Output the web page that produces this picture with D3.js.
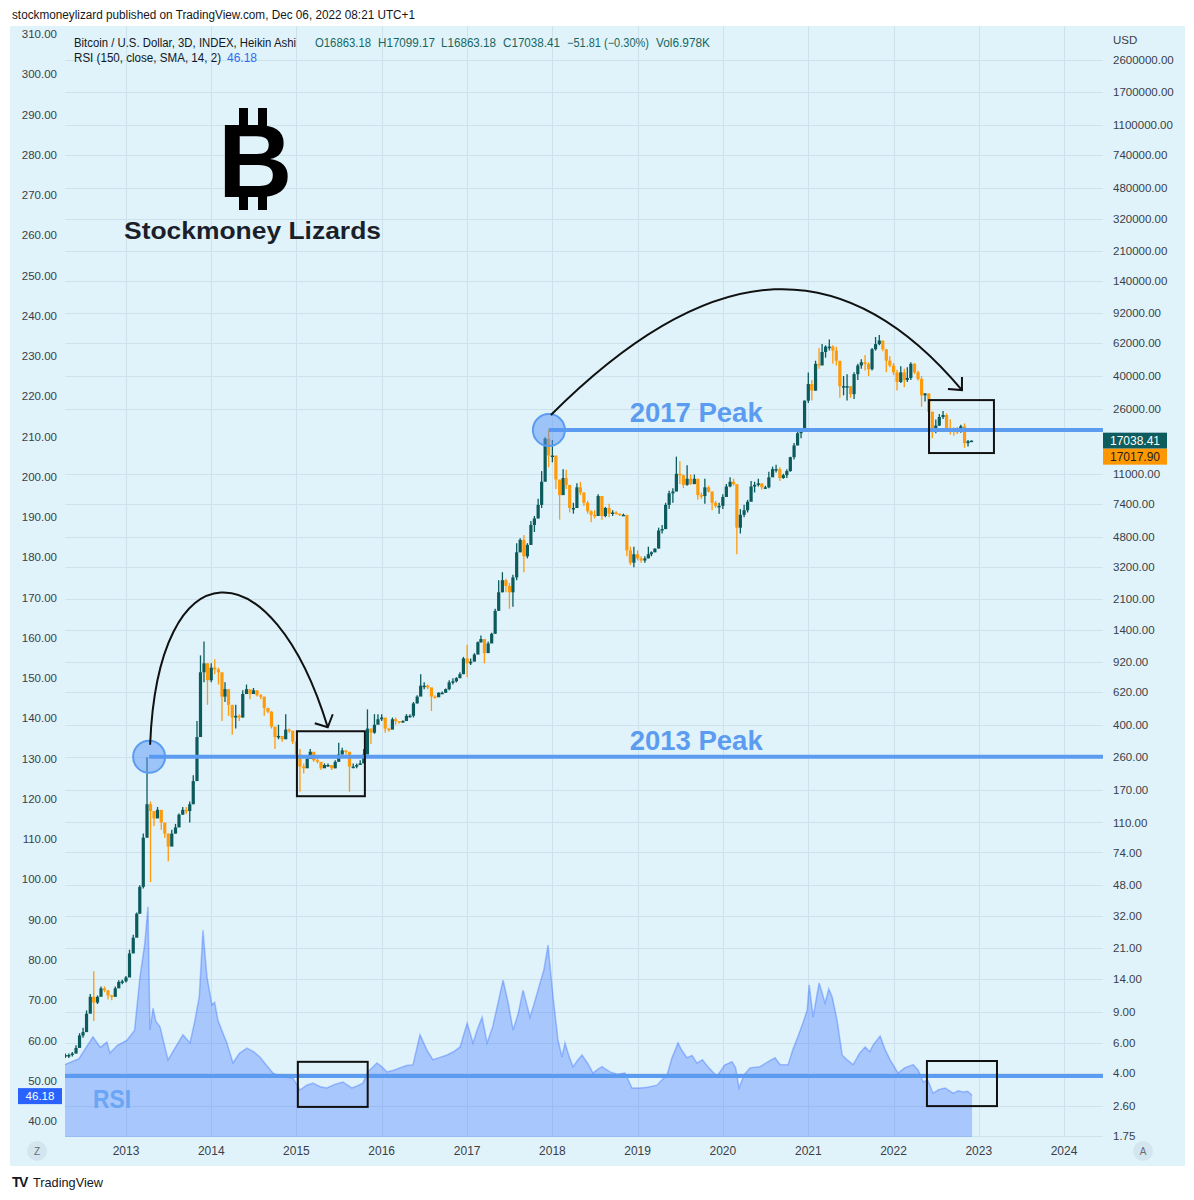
<!DOCTYPE html>
<html><head><meta charset="utf-8">
<script src="https://cdn.jsdelivr.net/npm/d3@7"></script>
<style>body{margin:0;background:#fff} text{font-family:"Liberation Sans",Arial,sans-serif}</style>
</head><body><svg id="c" width="1194" height="1200"></svg>
<script>
// ---------- DATA ----------
// Half-month Heikin-Ashi style candles, first one on 2012-04-16, then 1st / 16th of each month
const firstCandle = [2012, 3, 16];
const closes = [
  5.1,5.1,5.2,5.6,6.6,6.9,8.8,11.0,10.2,11.0,12.3,12.0,11.2,11.0,12.3,13.4,13.5,
  14.2,19.5,24,33,47,90,140,128,116,130,110,95,80,95,103,122,130,128,140,190,340,800,900,720,
  850,830,800,580,640,520,440,450,440,600,640,600,630,590,580,500,475,390,340,345,330,375,370,320,
  270,230,225,255,280,250,245,225,235,235,225,245,270,285,280,230,230,235,240,270,380,360,400,430,
  440,380,375,430,420,415,420,450,450,530,580,670,670,655,580,575,610,610,640,700,710,740,780,960,
  900,920,1010,1190,1240,1030,1170,1330,1800,2300,2700,2500,2300,2800,3900,4600,3700,4300,5600,6100,7300,9900,17500,14000,
  14000,10200,8300,10400,9500,7000,7000,9200,8600,7500,6700,6400,6300,8200,6300,7000,6500,6600,6500,6400,6400,4000,3400,3800,
  3600,3500,3600,3800,3900,4100,5200,5300,7300,8500,8700,11000,10800,9500,10300,9600,10300,8300,8200,9200,8700,7500,7200,7200,
  8100,9300,9900,9600,5400,6400,6800,7600,9300,9500,9700,9200,9200,10500,11700,11700,10400,10800,11400,13700,16000,18800,19300,28900,
  36000,33000,47000,46000,55000,59000,59000,56000,49000,35000,35000,35000,31500,41000,46000,48000,47000,43800,57000,61000,64000,57000,49000,46000,
  42000,37000,42000,38000,39000,47000,42000,38500,31000,31800,25000,19900,20800,23300,23900,20000,19800,19400,19200,20600,16500,16900,17038.41
];
const lows = [
  4.9,4.9,5.0,5.2,5.9,6.4,7.5,9.0,8.0,10.0,11.3,11.7,10.6,10.5,11.0,12.5,13.0,
  13.3,14.5,20,25,33,46,90,50,105,118,100,90,66,85,95,105,122,123,110,140,195,400,700,520,
  700,780,680,420,540,450,350,380,420,440,600,560,600,580,560,450,465,380,290,330,320,340,360,310,
  260,165,210,230,255,245,240,220,230,230,220,225,250,270,270,165,225,225,235,250,290,310,355,410,
  420,360,365,390,400,405,410,425,440,440,530,600,640,640,480,565,580,600,610,630,680,700,740,780,
  750,880,960,1020,1180,900,1030,1180,1330,1800,2300,2300,1850,1900,2700,3900,3000,3600,4300,5100,6100,7000,10000,12000,
  12800,9000,6000,9500,9000,6600,6500,7800,8300,7200,6500,5800,6100,6500,6000,6200,6200,6300,6400,6300,6300,3700,3300,3200,
  3500,3400,3400,3600,3700,3900,4100,5000,5300,6900,7500,8800,9600,9100,9400,9500,9600,7800,7900,7400,8600,6800,7000,6500,
  6900,8300,9200,9400,3800,5000,6200,6600,8600,8600,9300,8900,9000,9100,11000,11200,10000,10300,10400,11300,13300,16000,17600,19300,
  28000,29000,33000,44000,47000,51000,56000,47000,46000,30000,31000,29000,30000,29500,38000,44000,43000,40000,43000,56000,60000,55500,42000,45000,
  40500,33000,36500,34500,37000,38000,41000,37700,26700,28600,22000,17600,18800,20700,22700,19800,18500,18200,18600,18900,15500,15800,16800
];
const highs = [
  5.2,5.2,5.3,5.8,6.8,7.3,9.2,11.4,15.4,11.2,12.6,12.6,12.0,11.3,12.6,13.7,13.8,
  14.5,20.5,25,33.5,48,95,260,145,125,135,125,108,95,100,108,124,135,135,145,205,420,1000,1200,900,
  900,950,850,700,700,630,480,520,460,630,680,620,650,630,600,520,485,480,390,400,340,460,380,340,
  320,290,240,262,290,270,260,235,240,240,230,250,315,295,285,260,240,240,250,290,490,380,460,460,
  460,410,385,440,440,420,425,460,460,540,590,780,700,680,620,590,615,620,645,720,740,750,800,980,
  1150,960,1030,1200,1300,1100,1200,1350,1850,2700,3000,2750,2600,2900,4400,4700,4900,4400,5900,6300,7900,11400,17800,19800,
  17200,13000,10000,11700,11600,8700,7500,9700,9900,8600,7700,6800,6800,8400,7700,7100,7400,6800,6700,6500,6500,6300,4200,4200,
  4000,3700,3700,4200,3950,4100,5400,5600,7500,8800,9100,13800,13000,10900,12300,10900,10900,10300,8600,10300,9400,8700,7700,7500,
  8400,9600,10500,10300,9200,6900,7300,7800,10000,9900,10300,9500,9400,11300,12100,12400,12000,11000,11700,13800,16500,19500,19900,29000,
  41900,38000,49000,58000,61000,60000,64800,60000,59000,44000,40000,41000,35000,42000,47000,50000,52900,48000,58000,67000,68800,61000,57000,52000,
  47500,43500,45500,44000,45000,48000,47500,42900,40000,32000,31800,22000,22500,24200,25200,24400,22600,20300,20400,21000,21400,17200,17100
];
// RSI (150) – decimal year and value
const rsiYears = [2012.285,2012.45,2012.613,2012.70,2012.777,2012.812,2012.90,2013.012,2013.10,2013.164,2013.22,2013.258,2013.281,2013.317,2013.35,2013.399,2013.493,2013.58,2013.668,2013.751,2013.809,2013.86,2013.903,2013.950,
  2014.009,2014.04,2014.079,2014.13,2014.184,2014.255,2014.33,2014.419,2014.50,2014.571,2014.65,2014.724,2014.84,2014.958,2015.041,2015.12,2015.193,2015.28,2015.357,2015.45,2015.545,2015.650,2015.72,2015.779,2015.838,2015.944,
  2016.0,2016.061,2016.14,2016.213,2016.29,2016.366,2016.448,2016.530,2016.600,2016.68,2016.765,2016.84,2016.917,2017.0,2017.069,2017.12,2017.175,2017.234,2017.30,2017.351,2017.421,2017.48,2017.539,2017.60,2017.656,2017.738,2017.80,2017.855,2017.90,2017.949,
  2018.008,2018.066,2018.113,2018.148,2018.20,2018.242,2018.30,2018.348,2018.42,2018.477,2018.53,2018.582,2018.676,2018.76,2018.852,2018.934,2019.028,2019.12,2019.227,2019.29,2019.345,2019.40,2019.474,2019.52,2019.579,2019.64,2019.696,2019.76,2019.825,2019.931,
  2020.02,2020.107,2020.15,2020.189,2020.25,2020.318,2020.435,2020.52,2020.611,2020.670,2020.764,2020.82,2020.881,2020.94,2020.987,2021.010,2021.057,2021.10,2021.127,2021.197,2021.24,2021.280,2021.338,2021.397,2021.46,2021.526,2021.60,2021.667,2021.72,2021.761,2021.843,2021.90,2021.960,
  2022.054,2022.13,2022.230,2022.29,2022.347,2022.40,2022.464,2022.53,2022.605,2022.699,2022.76,2022.816,2022.87,2022.921];
const rsiValues = [54,55.5,60.9,58.3,59.6,56.9,58.8,60.1,62.5,75.8,84,93.2,62.6,68,64.8,63.4,55.2,58.3,61.4,59.4,65,71,87.4,75.8,
  68.8,69.5,65,62.2,59.4,54.4,56.8,58.1,57.2,55.9,53.8,51.9,50.9,50.7,47.7,48.9,49.4,48.5,48.2,49.1,49.7,48.2,48.8,49.4,52.2,54.4,
  53.5,52.2,52.6,53.2,53.8,54,61.4,57.6,55.2,55.8,56.4,57.2,58.4,64.3,59.4,62.8,65.8,59.4,63.5,68.3,75,69.5,62.6,66.8,72.5,65.8,70.2,74.3,77.5,83.7,
  70.8,60.1,55.9,59.4,55.8,53.5,55.2,56.4,54.1,51.9,52.8,53.5,52.2,51.6,51.9,48.2,48.2,48.4,48.9,50.3,51.4,55.5,59.4,57.5,55.7,56.3,54.4,55.2,53.5,51.1,
  53.9,54.7,53.2,48.2,51.5,53.2,53.5,54.6,55.7,54,54,57.8,61.1,64.5,67.6,73.8,65.8,71.2,74.3,69.3,72.8,70.8,65,56.4,55.1,54,56.8,58.4,57.2,58.9,61.1,57.8,55.2,
  51.9,53.2,54,52.6,49.7,50.2,46.9,47.8,48.2,46.9,47.5,47.2,47.4,46.4];
const yearTicks = [2013,2014,2015,2016,2017,2018,2019,2020,2021,2022,2023,2024];
const priceTicks = [2600000,1700000,1100000,740000,480000,320000,210000,140000,92000,62000,40000,26000,11000,7400,4800,3200,2100,1400,920,620,400,260,170,110,74,48,32,21,14,9,6,4,2.6,1.75];
const rsiTicks = [310,300,290,280,270,260,250,240,230,220,210,200,190,180,170,160,150,140,130,120,110,100,90,80,70,60,50,40];
const lastClose = 17038.41, lastPrice2 = 17017.90, lastRsi = 46.18;

// ---------- SETUP ----------
const svg = d3.select("#c");
svg.append("rect").attr("width",1194).attr("height",1200).attr("fill","#fff");
svg.append("rect").attr("x",10).attr("y",26).attr("width",1175).attr("height",1140).attr("fill","#e0f3fb");
const P = {l:65, r:1103, t:26, b:1137};
const x = d3.scaleTime().domain([new Date(2013,0,1), new Date(2024,0,1)]).range([126,1064]);
const yP = d3.scaleLog().domain([1.75,2600000]).range([1136,60]);
const yR = d3.scaleLinear().domain([40,310]).range([1121,34]);
const yearToDate = t => { const y=Math.floor(t), a=new Date(y,0,1), b=new Date(y+1,0,1); return new Date(+a + (t-y)*(b-a)); };
const candleDate = i => new Date(firstCandle[0], firstCandle[1] + Math.floor((i+1)/2), i%2===0 ? 16 : 1);

svg.append("defs").append("clipPath").attr("id","clip").append("rect")
  .attr("x",P.l).attr("y",P.t).attr("width",P.r-P.l).attr("height",P.b-P.t);

// grid
const grid = svg.append("g").attr("stroke","#cde2ec").attr("stroke-width",1);
grid.selectAll("line.v").data(yearTicks).join("line").attr("class","v")
  .attr("x1",d=>Math.round(x(new Date(d,0,1)))+0.5).attr("x2",d=>Math.round(x(new Date(d,0,1)))+0.5)
  .attr("y1",P.t).attr("y2",P.b);
grid.selectAll("line.h").data(priceTicks).join("line").attr("class","h")
  .attr("x1",P.l).attr("x2",P.r)
  .attr("y1",d=>Math.round(yP(d))+0.5).attr("y2",d=>Math.round(yP(d))+0.5);

const plot = svg.append("g").attr("clip-path","url(#clip)");

// RSI area
const rsiData = rsiYears.map((t,i)=>({d:yearToDate(t), v:rsiValues[i]}));
plot.append("path").datum(rsiData)
  .attr("d", d3.area().x(d=>x(d.d)).y0(P.b).y1(d=>yR(d.v)))
  .attr("fill","rgba(41,98,255,0.3)");
plot.append("path").datum(rsiData)
  .attr("d", d3.line().x(d=>x(d.d)).y(d=>yR(d.v)))
  .attr("fill","none").attr("stroke","rgba(41,98,255,0.35)").attr("stroke-width",1.5);

// candles
const n = Math.min(closes.length, lows.length, highs.length);
const candles = d3.range(n).map(i=>({
  d: candleDate(i), o: i ? closes[i-1] : closes[0], c: closes[i], h: highs[i], l: lows[i]
}));
const up = "#0b5b5c", dn = "#ff9a0a";
const cg = plot.append("g");
cg.selectAll("line").data(candles).join("line")
  .attr("x1",d=>x(d.d)).attr("x2",d=>x(d.d))
  .attr("y1",d=>yP(d.h)).attr("y2",d=>yP(d.l))
  .attr("stroke",d=>d.c>=d.o?up:dn).attr("stroke-width",1.3);
cg.selectAll("rect").data(candles).join("rect")
  .attr("x",d=>x(d.d)-1.6).attr("width",3.2)
  .attr("y",d=>Math.min(yP(d.o),yP(d.c)))
  .attr("height",d=>Math.max(1.5,Math.abs(yP(d.o)-yP(d.c))))
  .attr("fill",d=>d.c>=d.o?up:dn);

// ---------- ANNOTATIONS ----------
const blue = "#5b9cf1";
const peaks = [
  {date:new Date(2013,3,10), price:262, label:"2013 Peak", labelDate:new Date(2018,10,28), labelBase:750},
  {date:new Date(2017,11,17), price:19600, label:"2017 Peak", labelDate:new Date(2018,10,28), labelBase:422}
];
const ann = svg.append("g");
peaks.forEach(p=>{
  ann.append("line").attr("x1",x(p.date)).attr("x2",P.r).attr("y1",yP(p.price)).attr("y2",yP(p.price))
    .attr("stroke",blue).attr("stroke-width",4);
  ann.append("circle").attr("cx",x(p.date)).attr("cy",yP(p.price)).attr("r",16)
    .attr("fill","rgba(90,150,245,0.5)").attr("stroke",blue).attr("stroke-width",2);
  ann.append("text").attr("x",x(p.labelDate)).attr("y",p.labelBase).text(p.label)
    .attr("fill",blue).attr("font-family","Open Sans").attr("font-weight",700).attr("font-size",27)
    .attr("textLength",133).attr("lengthAdjust","spacingAndGlyphs");
});
const rsiLevel = 51.2;
ann.append("line").attr("x1",P.l).attr("x2",P.r).attr("y1",yR(rsiLevel)).attr("y2",yR(rsiLevel))
  .attr("stroke",blue).attr("stroke-width",4);
ann.append("text").attr("x",93).attr("y",1108).text("RSI").attr("fill","#6aa5f6")
  .attr("font-family","Open Sans").attr("font-weight",700).attr("font-size",26)
  .attr("textLength",38).attr("lengthAdjust","spacingAndGlyphs");

// boxes
const priceBoxes = [
  [new Date(2015,0,3), new Date(2015,9,21), 367, 155.6],
  [new Date(2022,5,2), new Date(2023,2,7), 29120, 14470]
];
const rsiBoxes = [
  [new Date(2015,0,7), new Date(2015,10,2), 54.7, 43.5],
  [new Date(2022,4,24), new Date(2023,2,20), 54.9, 43.7]
];
const boxes = priceBoxes.map(b=>[x(b[0]),yP(b[2]),x(b[1]),yP(b[3])])
  .concat(rsiBoxes.map(b=>[x(b[0]),yR(b[2]),x(b[1]),yR(b[3])]));
ann.selectAll("rect.box").data(boxes).join("rect").attr("class","box")
  .attr("x",d=>d[0]).attr("y",d=>d[1]).attr("width",d=>d[2]-d[0]).attr("height",d=>d[3]-d[1])
  .attr("fill","none").attr("stroke","#111").attr("stroke-width",2);

// arcs with arrows
const a1s = [x(peaks[0].date)+1, yP(peaks[0].price)-12];
const a1e = [x(new Date(2015,4,15)), yP(387)];
const a2s = [x(peaks[1].date)+2, yP(peaks[1].price)-15];
const a2e = [x(new Date(2022,9,21)), yP(33250)];
const arcs = [
  {s:a1s, c1:[a1s[0]+8,a1s[1]-200], c2:[a1e[0]-56,a1s[1]-200], e:a1e, arms:[[-13,-4],[5,-13]]},
  {s:a2s, c1:[a2s[0]+164,a2s[1]-164], c2:[a2e[0]-116,a2e[1]-138], e:a2e, arms:[[-14,-1],[0,-13]]}
];
arcs.forEach(a=>{
  const p = d3.path(); p.moveTo(...a.s); p.bezierCurveTo(...a.c1,...a.c2,...a.e);
  ann.append("path").attr("d",p.toString()).attr("fill","none").attr("stroke","#111").attr("stroke-width",2);
  ann.append("path").attr("d",`M${a.e[0]+a.arms[0][0]},${a.e[1]+a.arms[0][1]}L${a.e[0]},${a.e[1]}L${a.e[0]+a.arms[1][0]},${a.e[1]+a.arms[1][1]}`)
    .attr("fill","none").attr("stroke","#111").attr("stroke-width",2);
});

// ---------- AXES ----------
const axCol = "#3b3e47";
const fmt = d3.format(".2f");
svg.append("g").selectAll("text").data(rsiTicks).join("text")
  .attr("x",57).attr("y",d=>yR(d)).attr("dy","0.35em").attr("text-anchor","end")
  .attr("font-size",11.5).attr("fill",axCol).text(d=>fmt(d));
svg.append("g").selectAll("text").data(priceTicks).join("text")
  .attr("x",1113).attr("y",d=>yP(d)).attr("dy","0.35em")
  .attr("font-size",11.5).attr("fill",axCol).text(d=>fmt(d));
svg.append("text").attr("x",1113).attr("y",40).attr("dy","0.35em").attr("font-size",11.5).attr("fill",axCol).text("USD");
svg.append("g").selectAll("text").data(yearTicks).join("text")
  .attr("x",d=>x(new Date(d,0,1))).attr("y",1151).attr("dy","0.35em").attr("text-anchor","middle")
  .attr("font-size",12).attr("fill",axCol).text(d=>d);

// price / rsi labels
const pl = svg.append("g");
pl.append("rect").attr("x",1103).attr("y",yP(lastClose)-8).attr("width",64).attr("height",16).attr("fill","#0d5d5e");
pl.append("text").attr("x",1135).attr("y",yP(lastClose)).attr("dy","0.35em").attr("text-anchor","middle")
  .attr("font-size",12).attr("fill","#fff").text(fmt(lastClose));
pl.append("rect").attr("x",1103).attr("y",yP(lastClose)+8).attr("width",64).attr("height",16).attr("fill","#ff9800");
pl.append("text").attr("x",1135).attr("y",yP(lastClose)+16).attr("dy","0.35em").attr("text-anchor","middle")
  .attr("font-size",12).attr("fill","#222").text(fmt(lastPrice2));
pl.append("rect").attr("x",18).attr("y",yR(lastRsi)-8).attr("width",44).attr("height",16).attr("fill","#2962ff");
pl.append("text").attr("x",40).attr("y",yR(lastRsi)).attr("dy","0.35em").attr("text-anchor","middle")
  .attr("font-size",11.5).attr("fill","#fff").text(fmt(lastRsi));

// Z / A buttons
[[37,"Z"],[1143,"A"]].forEach(([cx,t])=>{
  svg.append("circle").attr("cx",cx).attr("cy",1151).attr("r",10).attr("fill","#d3e6ef");
  svg.append("text").attr("x",cx).attr("y",1151).attr("dy","0.35em").attr("text-anchor","middle")
    .attr("font-size",10).attr("fill","#6a6d78").text(t);
});

// ---------- TEXT ----------
svg.append("text").attr("x",12).attr("y",19).attr("font-size",12).attr("fill","#131722")
  .attr("textLength",403).attr("lengthAdjust","spacingAndGlyphs")
  .text("stockmoneylizard published on TradingView.com, Dec 06, 2022 08:21 UTC+1");
svg.append("text").attr("x",74).attr("y",47).attr("font-size",12).attr("fill","#131722")
  .attr("textLength",222).attr("lengthAdjust","spacingAndGlyphs")
  .text("Bitcoin / U.S. Dollar, 3D, INDEX, Heikin Ashi");
const teal = "#16675f";
[[315,"O16863.18",56],[378,"H17099.17",57],[441,"L16863.18",55],[503,"C17038.41",57],[567,"\u221251.81 (\u22120.30%)",82],[656,"Vol6.978K",54]]
  .forEach(([xx,t,w])=>svg.append("text").attr("x",xx).attr("y",47).attr("font-size",12).attr("fill",teal)
    .attr("textLength",w).attr("lengthAdjust","spacingAndGlyphs").text(t));
svg.append("text").attr("x",74).attr("y",62).attr("font-size",12).attr("fill","#131722")
  .attr("textLength",147).attr("lengthAdjust","spacingAndGlyphs").text("RSI (150, close, SMA, 14, 2)");
svg.append("text").attr("x",227).attr("y",62).attr("font-size",12).attr("fill","#2f6cf3").text(fmt(lastRsi));

// logo
const logo = svg.append("g");
logo.append("text").attr("x",218).attr("y",197).attr("font-family","DejaVu Sans").attr("font-weight",700)
  .attr("font-size",103).attr("fill","#000").text("B");
[[239,108,9,24],[258,108,9,24],[239,190,9,20],[258,190,9,20]].forEach(r=>
  logo.append("rect").attr("x",r[0]).attr("y",r[1]).attr("width",r[2]).attr("height",r[3]).attr("fill","#000"));
svg.append("text").attr("x",124).attr("y",239).attr("font-family","Open Sans").attr("font-weight",600)
  .attr("font-size",24).attr("fill","#1b1f2a").attr("textLength",257).attr("lengthAdjust","spacingAndGlyphs")
  .text("Stockmoney Lizards");

// footer
svg.append("text").attr("x",12).attr("y",1187).attr("font-size",14).attr("font-weight",700)
  .attr("fill","#131722").attr("letter-spacing",-1.5).text("TV");
svg.append("text").attr("x",33).attr("y",1187).attr("font-size",13).attr("fill","#131722")
  .attr("textLength",70).attr("lengthAdjust","spacingAndGlyphs").text("TradingView");
</script></body></html>
